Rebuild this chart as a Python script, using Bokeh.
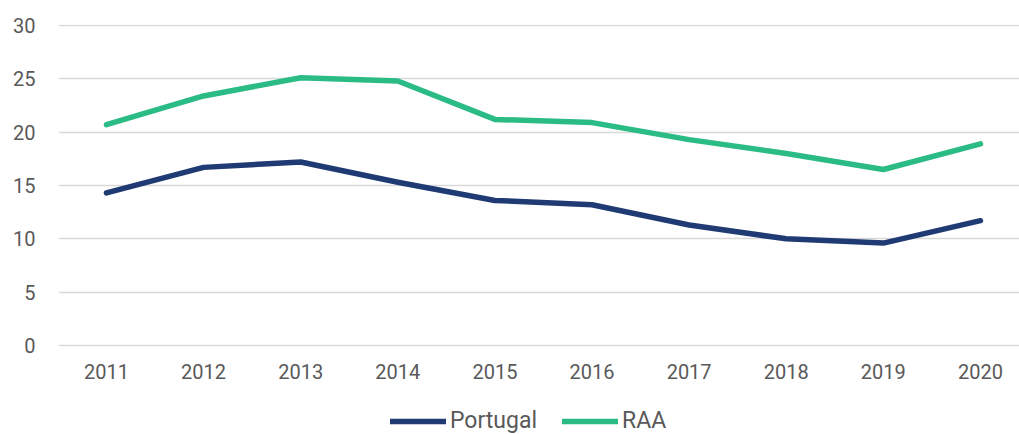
from bokeh.plotting import figure
from bokeh.models import Legend, LegendItem, FixedTicker, Range1d
from bokeh.layouts import column
from bokeh.embed import file_html
from bokeh.resources import INLINE

years = [2011, 2012, 2013, 2014, 2015, 2016, 2017, 2018, 2019, 2020]
portugal = [14.3, 16.7, 17.2, 15.3, 13.6, 13.2, 11.3, 10.0, 9.6, 11.7]
raa = [20.7, 23.4, 25.1, 24.8, 21.2, 20.9, 19.3, 18.0, 16.5, 18.9]
y_ticks = [0, 5, 10, 15, 20, 25, 30]
series_names = ["Portugal", "RAA"]

NAVY = "#203B73"
GREEN = "#2BBB85"
TXT = "#595959"
FONT = "Roboto"

p = figure(width=1019, height=400, output_backend="svg", toolbar_location=None,
           x_range=Range1d(2010.506, 2020.402), y_range=Range1d(-0.1, 30.1),
           min_border_left=58, min_border_right=0, min_border_top=24, min_border_bottom=54)
p.outline_line_color = None
p.background_fill_color = "white"
p.border_fill_color = "white"

p.xgrid.grid_line_color = None
p.ygrid.grid_line_color = "#D9D9D9"
p.ygrid.grid_line_width = 1.5

p.yaxis.ticker = FixedTicker(ticks=y_ticks)
p.xaxis.ticker = FixedTicker(ticks=years)
for ax in (p.xaxis, p.yaxis):
    ax.axis_line_color = None
    ax.major_tick_line_color = None
    ax.minor_tick_line_color = None
    ax.major_tick_out = 0
    ax.major_tick_in = 0
    ax.minor_tick_out = 0
    ax.major_label_text_color = TXT
    ax.major_label_text_font = FONT
    ax.major_label_text_font_size = "20px"
p.yaxis.major_label_standoff = 23
p.xaxis.major_label_standoff = 17

p.line(years, portugal, line_color=NAVY, line_width=5.5, line_join="round", line_cap="round")
p.line(years, raa, line_color=GREEN, line_width=5.5, line_join="round", line_cap="round")

# legend strip below the chart (same series, kept out of its view range)
pl = figure(width=1019, height=34, output_backend="svg", toolbar_location=None,
            x_range=Range1d(2010.506, 2020.402), y_range=Range1d(1000, 1001),
            min_border_left=0, min_border_right=0, min_border_top=0, min_border_bottom=0)
pl.axis.visible = False
pl.grid.visible = False
pl.outline_line_color = None
pl.border_fill_color = "white"
l1 = pl.line(years, portugal, line_color=NAVY, line_width=5.5, line_cap="round")
l2 = pl.line(years, raa, line_color=GREEN, line_width=5.5, line_cap="round")

legend = Legend(items=[LegendItem(label=series_names[0], renderers=[l1]),
                       LegendItem(label=series_names[1], renderers=[l2])],
                orientation="horizontal", location=(332, 0))
legend.border_line_color = None
legend.background_fill_alpha = 0
legend.padding = 0
legend.margin = 0
legend.spacing = 25
legend.glyph_width = 56
legend.glyph_height = 24
legend.label_standoff = 4
legend.label_text_font = FONT
legend.label_text_font_size = "23px"
legend.label_text_color = TXT
pl.add_layout(legend)

open("out.html", "w").write(file_html(column(p, pl, spacing=0), INLINE))
